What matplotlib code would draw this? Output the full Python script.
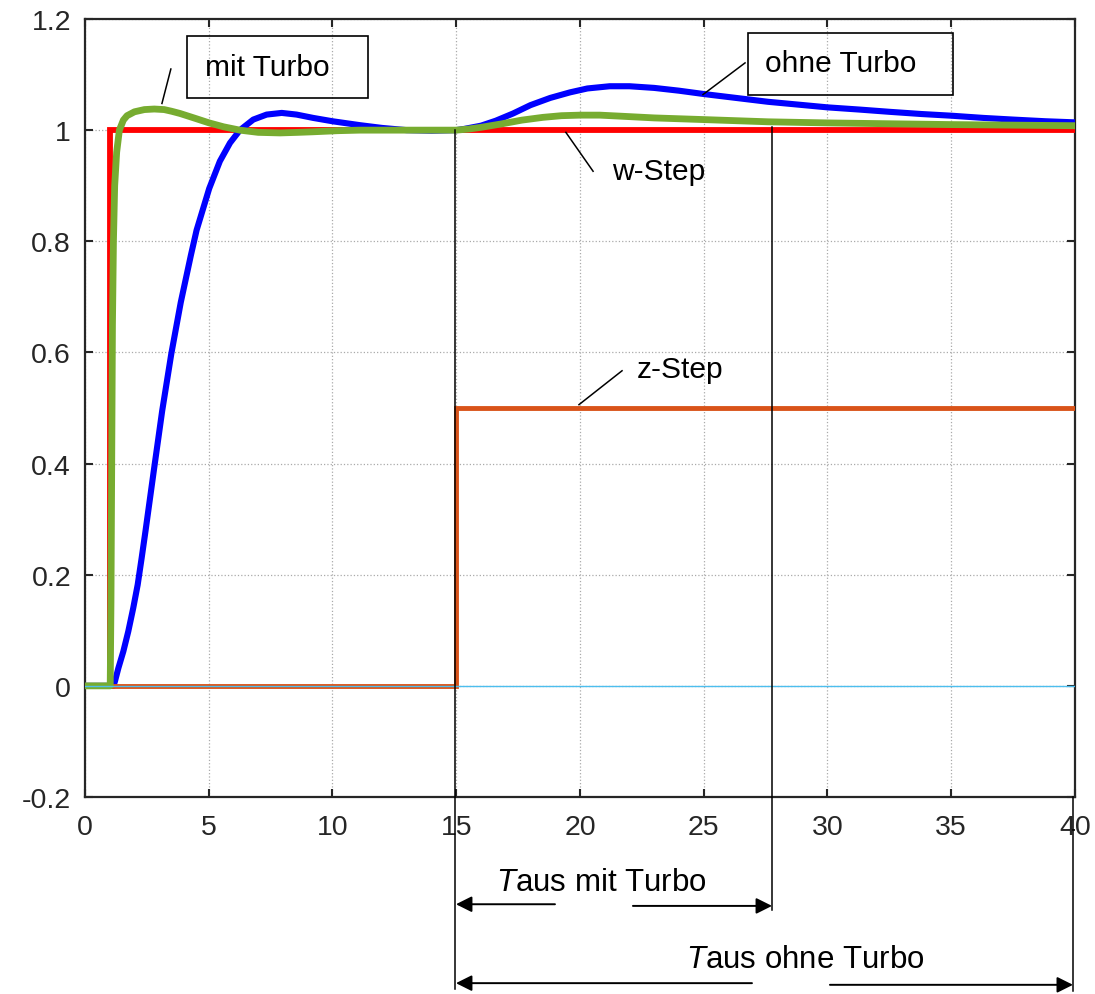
import matplotlib
matplotlib.use("Agg")
import matplotlib.pyplot as plt
from matplotlib.patches import Rectangle
from matplotlib.ticker import FormatStrFormatter

plt.rcParams['font.family'] = ['Liberation Sans', 'DejaVu Sans']
plt.rcParams['mathtext.fontset'] = 'custom'
plt.rcParams['mathtext.it'] = 'Liberation Sans:italic'
plt.rcParams['mathtext.rm'] = 'Liberation Sans'

# step inputs
w_t = [0, 1, 1, 40]
w_y = [0, 0, 1, 1]
z_t = [0, 15, 15, 40]
z_y = [0, 0, 0.5, 0.5]
zero_t = [0, 40]
zero_y = [0, 0]

# response without turbo
ohne_t = [0, 1.15, 1.21, 1.35, 1.55, 1.75, 1.95, 2.13, 2.29, 2.45, 2.79, 3.12, 3.49, 3.87,
          4.28, 4.51, 5.02, 5.45, 5.86, 6.26, 6.8, 7.34, 7.95, 8.55, 9.22, 10, 11.1, 12, 13,
          14, 15, 15.3, 16.0, 16.6, 17.3, 18.0, 18.8, 19.6, 20.3, 21.2, 22.0, 23, 24, 25,
          26.3, 27.6, 28.8, 30, 31.3, 32.5, 33.8, 35, 36.3, 37.5, 38.8, 40]
ohne_y = [0, 0, 0.008, 0.032, 0.062, 0.098, 0.14, 0.182, 0.23, 0.28, 0.39, 0.495, 0.598, 0.69,
          0.775, 0.82, 0.895, 0.944, 0.977, 1.0, 1.019, 1.028, 1.031, 1.028, 1.022, 1.016,
          1.009, 1.004, 1.0, 0.999, 1.0, 1.002, 1.008, 1.017, 1.03, 1.045, 1.058, 1.068,
          1.075, 1.079, 1.079, 1.076, 1.071, 1.065, 1.058, 1.051, 1.046, 1.041, 1.037,
          1.033, 1.029, 1.026, 1.022, 1.019, 1.016, 1.014]

# response with turbo
mit_t = [0, 1.02, 1.05, 1.08, 1.11, 1.15, 1.2, 1.28, 1.39, 1.55, 1.7, 2.0, 2.4, 2.8, 3.2,
         3.5, 3.84, 4.4, 5.02, 5.6, 6.26, 7.0, 7.88, 8.6, 9.2, 10.2, 11.1, 15, 15.5, 16,
         16.8, 17.65, 18.5, 19.25, 20, 20.8, 21.7, 23, 25, 27.6, 30, 35, 40]
mit_y = [0, 0, 0.15, 0.4, 0.65, 0.8, 0.9, 0.96, 1.0, 1.018, 1.026, 1.033, 1.037, 1.038,
         1.037, 1.034, 1.030, 1.022, 1.013, 1.006, 1.0, 0.996, 0.995, 0.996, 0.997, 0.999,
         1.0, 1.0, 1.002, 1.005, 1.011, 1.018, 1.023, 1.026, 1.027, 1.027, 1.025, 1.022,
         1.019, 1.015, 1.013, 1.010, 1.008]

fig = plt.figure(figsize=(10.95, 9.95), dpi=100)
ax = fig.add_axes([0.0776, 0.198, 0.9041, 0.7819])

ax.plot(w_t, w_y, color='#FF0000', lw=4.2, solid_joinstyle='miter', zorder=3)
ax.plot(ohne_t, ohne_y, color='#0000FF', lw=4.4, zorder=4)
ax.plot(mit_t, mit_y, color='#77AC30', lw=4.9, zorder=5)
ax.plot(z_t, z_y, color='#D95319', lw=3.5, solid_joinstyle='miter', zorder=4)
ax.plot(zero_t, zero_y, color='#4DBEEE', lw=1.0, zorder=6)

ax.set_xlim(0, 40)
ax.set_ylim(-0.2, 1.2)
ax.set_xticks(range(0, 41, 5))
ax.set_yticks([-0.2, 0, 0.2, 0.4, 0.6, 0.8, 1.0, 1.2])
ax.yaxis.set_major_formatter(FormatStrFormatter('%g'))
ax.grid(True, ls=':', color='#aaaaaa', lw=0.9)
ax.set_axisbelow(True)
ax.tick_params(direction='in', length=6, width=1.5, top=True, right=True,
               labelsize=20.5, colors='#262626')
ax.tick_params(axis='x', pad=12)
ax.tick_params(axis='y', pad=10)
for s in ax.spines.values():
    s.set_linewidth(1.6)
    s.set_color('#262626')

# labels with boxes
ax.add_patch(Rectangle((4.12, 1.058), 7.31, 0.111, fill=False, ec='black', lw=1.2,
                       clip_on=False, zorder=7))
ax.text(4.85, 1.114, 'mit Turbo', fontsize=21.5, va='center', ha='left', zorder=8)
ax.plot([3.47, 3.11], [1.110, 1.048], color='black', lw=1.1, zorder=7)

ax.add_patch(Rectangle((26.79, 1.064), 8.28, 0.111, fill=False, ec='black', lw=1.2,
                       clip_on=False, zorder=7))
ax.text(27.47, 1.121, 'ohne Turbo', fontsize=21.5, va='center', ha='left', zorder=8)
ax.plot([26.67, 24.97], [1.121, 1.064], color='black', lw=1.1, zorder=7)

ax.text(21.29, 0.927, 'w-Step', fontsize=21.5, va='center', ha='left')
ax.plot([20.53, 19.43], [0.926, 0.996], color='black', lw=1.1, zorder=7)

ax.text(22.3, 0.570, 'z-Step', fontsize=21.5, va='center', ha='left')
ax.plot([21.7, 19.96], [0.567, 0.506], color='black', lw=1.1, zorder=7)

# time markers below the axes
ax.plot([14.95, 14.95], [1.0, -0.545], color='black', lw=1.1, clip_on=False, zorder=7)
ax.plot([27.76, 27.76], [1.006, -0.404], color='black', lw=1.1, clip_on=False, zorder=7)
ax.plot([39.92, 39.92], [-0.2, -0.55], color='black', lw=1.1, clip_on=False, zorder=7)

ax.text(16.6, -0.353, '$T$aus mit Turbo', fontsize=22.5, va='center', ha='left')
ax.text(24.3, -0.491, '$T$aus ohne Turbo', fontsize=22.5, va='center', ha='left')

arrows = [((18.99, -0.393), (14.99, -0.393)),
          ((22.14, -0.396), (27.76, -0.396)),
          ((26.95, -0.535), (14.99, -0.535)),
          ((30.1, -0.538), (39.92, -0.538))]
for tail, head in arrows:
    ax.annotate('', xy=head, xytext=tail, annotation_clip=False,
                arrowprops=dict(arrowstyle='-|>', color='black', lw=1.4,
                                mutation_scale=24, shrinkA=0, shrinkB=0))

fig.savefig('out.png', dpi=100)
